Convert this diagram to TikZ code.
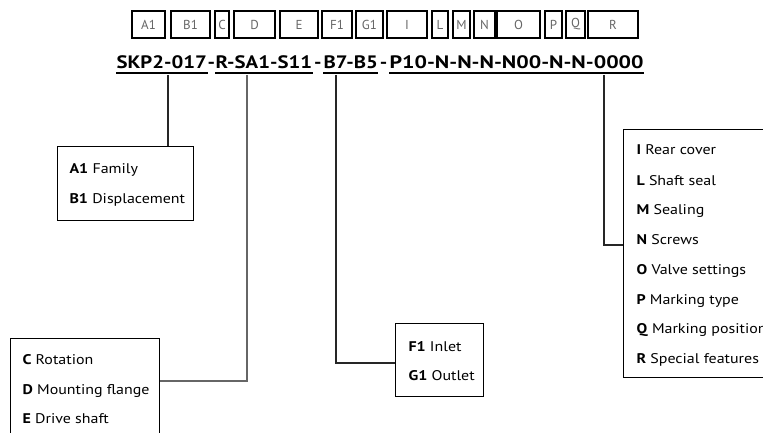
\documentclass[tikz,border=0pt]{standalone}
\usepackage{fontspec}
\setmainfont{PT Sans}
\usetikzlibrary{calc}
\newcommand{\myCodeTxt}[1]{\scalebox{1.155}[1]{#1}}
\newcommand{\myCodeLong}[1]{\scalebox{1.22}[1]{#1}}
\newcommand{\myItemTxt}[1]{\scalebox{1.14}[1]{#1}}
\begin{document}
\begin{tikzpicture}[x=1pt,y=-1pt,line width=1.1pt,
  keybox/.style={draw, inner sep=0pt, minimum height=27pt, text=black!60,
    font=\fontsize{13}{13}\selectfont},
  code/.style={anchor=base west, inner sep=0pt, font=\bfseries\fontsize{18}{18}\selectfont},
  hyph/.style={anchor=base, inner sep=0pt, font=\bfseries\fontsize{18}{18}\selectfont},
  legend/.style={draw, inner sep=0pt, anchor=north west},
  item/.style={anchor=base west, inner sep=0pt, font=\fontsize{14}{14}\selectfont},
  wire/.style={draw=black!85, line width=1.1pt}]
\clip (0,0) rectangle (763,433);
\useasboundingbox (0,0) rectangle (763,433);
% top key boxes
\foreach \n/\l/\r in {A1/132/165, B1/171/210, C/215/229, D/234/275, E/280/318,
  F1/322/352, G1/356/383, I/387/427, L/432/448, M/453/470, N/474/495,
  O/497/540, P/545/562, Q/566/585, R/588/638}{
  \pgfmathsetmacro{\w}{\r-\l}
  \node[keybox, minimum width=\w pt] (k\n) at ({(\l+\r)/2},24.5) {\n};
}
% code line
\node[code] (s1) at (116,69) {\myCodeTxt{SKP2-017}};
\node[code] (s2) at (215,69) {\myCodeTxt{R-SA1-S11}};
\node[code] (s3) at (323,69) {\myCodeTxt{B7-B5}};
\node[code] (s4) at (389,69) {\myCodeLong{P10-N-N-N-N00-N-N-0000}};
\node[hyph] (h1) at ($(s1.base east)!0.5!(s2.base west)$) {\myCodeTxt{-}};
\node[hyph] (h2) at ($(s2.base east)!0.5!(s3.base west)$) {\myCodeTxt{-}};
\node[code] (h3) at ([xshift=1pt]s3.base east) {\myCodeTxt{-}};
\foreach \s in {s1,s2,s3,s4}{
  \draw[line width=1.2pt] ([yshift=-4pt]\s.base west) -- ([yshift=-4pt]\s.base east);
}
% legend boxes
\node[legend, minimum width=136pt, minimum height=74pt] (famBox) at (57,146) {};
\node[item] (tA1) at (69,174) {\myItemTxt{\textbf{A1} Family}};
\node[item] (tB1) at (69,204) {\myItemTxt{\textbf{B1} Displacement}};

\node[legend, minimum width=149pt, minimum height=120pt] (rotBox) at (10,338) {};
\node[item] (tC) at (22,364) {\myItemTxt{\textbf{C} Rotation}};
\node[item] (tD) at (22,394) {\myItemTxt{\textbf{D} Mounting flange}};
\node[item] (tE) at (22,423) {\myItemTxt{\textbf{E} Drive shaft}};

\node[legend, minimum width=88pt, minimum height=73pt] (inBox) at (395,323) {};
\node[item] (tF1) at (408,351) {\myItemTxt{\textbf{F1} Inlet}};
\node[item] (tG1) at (408,380) {\myItemTxt{\textbf{G1} Outlet}};

\node[legend, minimum width=160pt, minimum height=248pt] (partsBox) at (623,129) {};
\node[item] (tI) at (636,155) {\myItemTxt{\textbf{I} Rear cover}};
\node[item] (tL) at (636,185) {\myItemTxt{\textbf{L} Shaft seal}};
\node[item] (tM) at (636,214) {\myItemTxt{\textbf{M} Sealing}};
\node[item] (tN) at (636,244) {\myItemTxt{\textbf{N} Screws}};
\node[item] (tO) at (636,274) {\myItemTxt{\textbf{O} Valve settings}};
\node[item] (tP) at (636,304) {\myItemTxt{\textbf{P} Marking type}};
\node[item] (tQ) at (636,333) {\myItemTxt{\textbf{Q} Marking position}};
\node[item] (tR) at (636,363) {\myItemTxt{\textbf{R} Special features}};
% connectors
\coordinate (c1) at (168,75);
\coordinate (c2) at (247,75);
\coordinate (c3) at (336,75);
\coordinate (c4) at (604,75);
\draw[wire] (c1) -- (c1 |- famBox.north);
\draw[wire, draw=black!60, line width=1.4pt] (c2) |- ([yshift=-43pt]rotBox.north east);
\draw[wire] (c3) |- ([yshift=-40pt]inBox.north west);
\draw[wire] (c4) |- ([yshift=-116pt]partsBox.north west);
\end{tikzpicture}
\end{document}
